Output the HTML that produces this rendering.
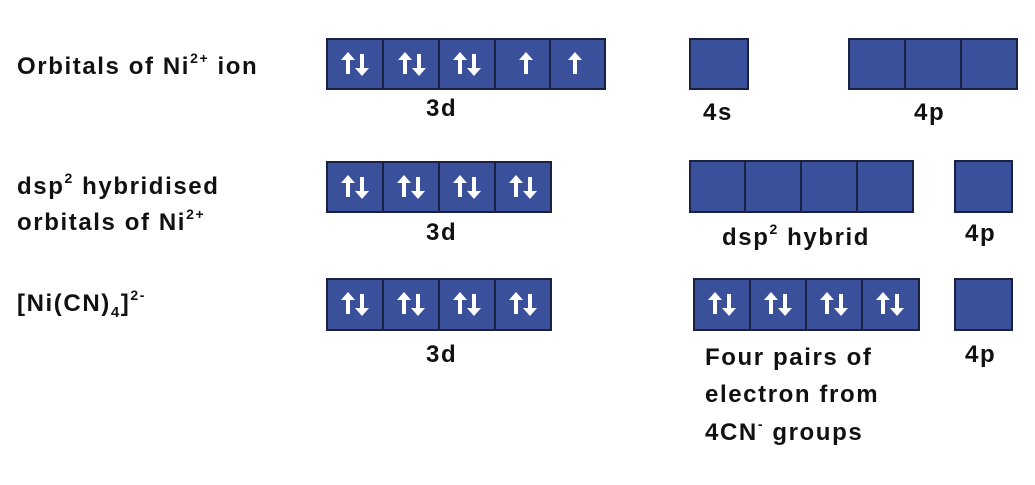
<!DOCTYPE html>
<html><head><meta charset="utf-8"><style>
html,body{margin:0;padding:0;background:#fff;}
body{width:1035px;height:485px;overflow:hidden;position:relative;}
svg{position:absolute;left:0;top:0;}
text{font-family:"Liberation Sans",sans-serif;font-weight:bold;fill:#111;letter-spacing:1.6px;}
</style></head><body>
<svg width="1035" height="485" viewBox="0 0 1035 485" xmlns="http://www.w3.org/2000/svg">
<defs>
<g id="up"><rect x="-2" y="-7" width="4" height="17" fill="#fff"/><polygon points="-7,-4 7,-4 0,-12" fill="#fff"/></g>
<g id="dn"><rect x="-2" y="-10" width="4" height="17" fill="#fff"/><polygon points="-7,4 7,4 0,12" fill="#fff"/></g>
</defs>
<g fill="#3a509a" stroke="#1b2140" stroke-width="2">
<rect x="327" y="39" width="56" height="50"/><rect x="383" y="39" width="56" height="50"/><rect x="439" y="39" width="56" height="50"/><rect x="495" y="39" width="55" height="50"/><rect x="550" y="39" width="55" height="50"/>
<rect x="690" y="39" width="58" height="50"/>
<rect x="849" y="39" width="56" height="50"/><rect x="905" y="39" width="56" height="50"/><rect x="961" y="39" width="56" height="50"/>
<rect x="327" y="162" width="56" height="50"/><rect x="383" y="162" width="56" height="50"/><rect x="439" y="162" width="56" height="50"/><rect x="495" y="162" width="56" height="50"/>
<rect x="690" y="161" width="55" height="51"/><rect x="745" y="161" width="56" height="51"/><rect x="801" y="161" width="56" height="51"/><rect x="857" y="161" width="56" height="51"/>
<rect x="955" y="161" width="57" height="51"/>
<rect x="327" y="279" width="56" height="51"/><rect x="383" y="279" width="56" height="51"/><rect x="439" y="279" width="56" height="51"/><rect x="495" y="279" width="56" height="51"/>
<rect x="694" y="279" width="56" height="51"/><rect x="750" y="279" width="56" height="51"/><rect x="806" y="279" width="56" height="51"/><rect x="862" y="279" width="57" height="51"/>
<rect x="955" y="279" width="57" height="51"/>
</g>
<use href="#up" x="348" y="64"/><use href="#dn" x="362" y="64"/>
<use href="#up" x="405" y="64"/><use href="#dn" x="419" y="64"/>
<use href="#up" x="460" y="64"/><use href="#dn" x="474" y="64"/>
<use href="#up" x="526" y="64"/><use href="#up" x="575" y="64"/>
<use href="#up" x="348" y="187"/><use href="#dn" x="362" y="187"/>
<use href="#up" x="404" y="187"/><use href="#dn" x="418" y="187"/>
<use href="#up" x="460" y="187"/><use href="#dn" x="474" y="187"/>
<use href="#up" x="516" y="187"/><use href="#dn" x="530" y="187"/>
<use href="#up" x="348" y="304"/><use href="#dn" x="362" y="304"/>
<use href="#up" x="404" y="304"/><use href="#dn" x="418" y="304"/>
<use href="#up" x="460" y="304"/><use href="#dn" x="474" y="304"/>
<use href="#up" x="516" y="304"/><use href="#dn" x="530" y="304"/>
<use href="#up" x="715" y="304"/><use href="#dn" x="729" y="304"/>
<use href="#up" x="771" y="304"/><use href="#dn" x="785" y="304"/>
<use href="#up" x="827" y="304"/><use href="#dn" x="841" y="304"/>
<use href="#up" x="883" y="304"/><use href="#dn" x="897" y="304"/>
<g font-size="24">
<text x="17" y="74">Orbitals of Ni<tspan font-size="14" dy="-11">2+</tspan><tspan dy="11"> ion</tspan></text>
<text x="17" y="194">dsp<tspan font-size="14" dy="-11">2</tspan><tspan dy="11"> hybridised</tspan></text>
<text x="17" y="230">orbitals of Ni<tspan font-size="14" dy="-11">2+</tspan></text>
<text x="17" y="311">[Ni(CN)<tspan font-size="15" dy="6">4</tspan><tspan dy="-6">]</tspan><tspan font-size="14" dy="-11">2-</tspan></text>
<text x="426" y="116">3d</text>
<text x="703" y="120">4s</text>
<text x="914" y="120">4p</text>
<text x="426" y="240">3d</text>
<text x="722" y="245">dsp<tspan font-size="14" dy="-11">2</tspan><tspan dy="11"> hybrid</tspan></text>
<text x="965" y="241">4p</text>
<text x="426" y="362">3d</text>
<text x="965" y="362">4p</text>
<text x="705" y="365">Four pairs of</text>
<text x="705" y="402">electron from</text>
<text x="705" y="440">4CN<tspan font-size="14" dy="-11">-</tspan><tspan dy="11"> groups</tspan></text>
</g>
</svg>
</body></html>
